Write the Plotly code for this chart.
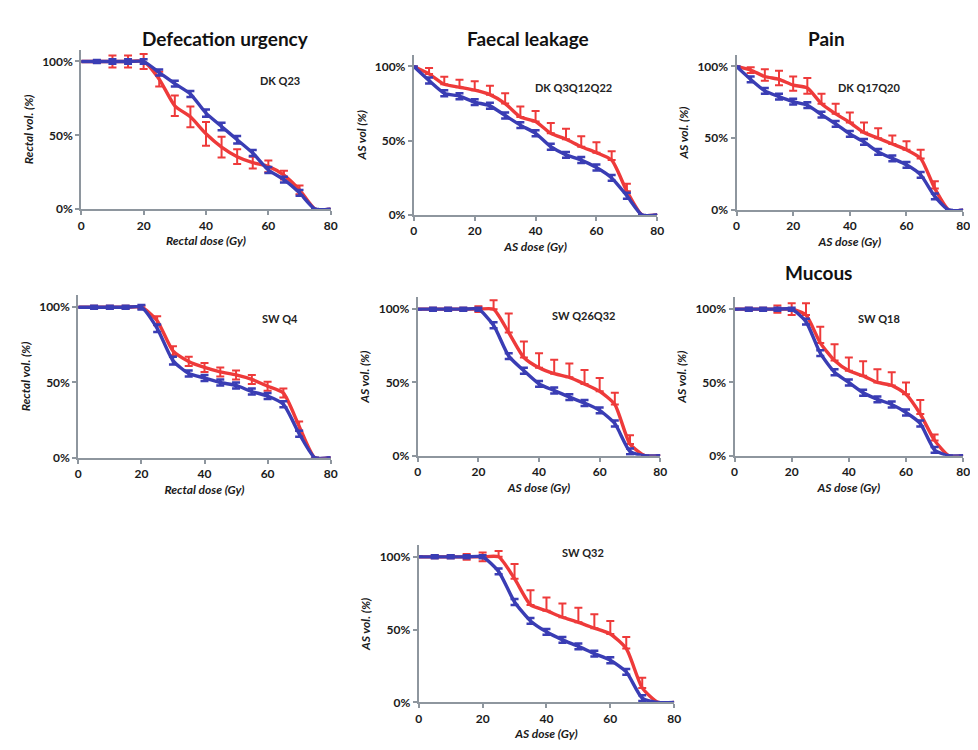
import plotly.graph_objects as go

dose = [0, 5, 10, 15, 20, 25, 30, 35, 40, 45, 50, 55, 60, 65, 70, 75, 80]
y_tickvals = [0, 50, 100]
y_ticktext = ["0%", "50%", "100%"]
x_tickvals = [0, 20, 40, 60, 80]

# ---- Panel 1: Defecation urgency, DK Q23 (rectum) ----
p1_blue = [100, 100, 100, 100, 100, 92.5, 85, 78, 65, 56, 47, 38, 26.5, 20, 11, 0, 0]
p1_blue_err = [0, 1, 1.5, 1.5, 1.5, 2, 2, 2, 2.5, 2.5, 2.5, 2, 2, 2, 2, 0, 0]
p1_red = [100, 100, 100, 100, 100, 88, 70, 62.5, 51, 42, 35.5, 31.5, 29, 23, 13, 0, 0]
p1_red_up = [0, 1, 4, 4, 5, 5, 7, 7, 8, 7, 5, 4, 4, 3, 3, 0, 0]
p1_red_dn = [0, 1, 4, 4, 5, 5, 7, 7, 8, 7, 5, 4, 4, 3, 3, 0, 0]

# ---- Panel 2: Faecal leakage, DK Q3Q12Q22 ----
p2_blue = [100, 90.5, 82, 80, 76, 73.5, 67, 60.5, 55, 46, 40.5, 37, 32, 25, 13, 0, 0]
p2_blue_err = [0, 2, 2, 2, 2, 2, 2, 2, 2, 2, 2, 2, 2, 2, 2, 0, 0]
p2_red = [100, 95, 88, 86, 84, 81, 75, 66, 63, 55, 51, 46, 42, 37, 16, 0, 0]
p2_red_up = [0, 4, 5, 5, 6, 6, 7, 7, 7, 7, 7, 7, 7, 6, 5, 0, 0]
p2_red_dn = [0] * 17

# ---- Panel 3: Pain, DK Q17Q20 ----
p3_blue = [100, 91, 83, 79, 75.5, 73, 66.5, 60, 53, 47.5, 40.5, 36, 31.5, 24.5, 9.5, 0, 0]
p3_blue_err = [0, 2, 2, 2, 2, 2, 2, 2, 2, 2, 2, 2, 2, 2, 2, 0, 0]
p3_red = [100, 97.5, 93, 91, 87, 85, 74, 67, 61, 54, 50, 46, 42, 36, 15, 0, 0]
p3_red_up = [0, 2, 5, 6, 6, 7, 7, 7, 7, 7, 7, 6, 6, 6, 5, 0, 0]
p3_red_dn = [0, 2, 3, 4, 4, 4, 0, 0, 0, 0, 0, 0, 0, 0, 0, 0, 0]

# ---- Panel 4: SW Q4 (rectum) ----
p4_blue = [100, 100, 100, 100, 100, 86, 64.5, 56, 53, 50, 48, 44, 41, 35.5, 16, 0, 0]
p4_blue_err = [0, 1, 1, 1, 1.5, 2.5, 2.5, 2, 2, 2, 2, 2, 2, 2, 2, 0, 0]
p4_red = [100, 100, 100, 100, 100, 91, 71, 64, 60, 57, 55, 52, 47.5, 43, 21, 0, 0]
p4_red_up = [0, 1, 1, 1, 1, 3, 3, 3, 3, 3, 3, 3, 3, 3, 3, 0, 0]
p4_red_dn = [0, 1, 1, 1, 1, 3, 3, 3, 3, 3, 3, 3, 3, 3, 3, 0, 0]

# ---- Panel 5: SW Q26Q32 ----
p5_blue = [100, 100, 100, 100, 100, 89, 68, 58, 49, 44.5, 40, 36, 31, 22, 3, 0, 0]
p5_blue_err = [0, 1, 1, 1, 1, 2, 2, 2, 2, 2, 2, 2, 2, 2, 2, 0, 0]
p5_red = [100, 100, 100, 100, 100, 100, 84, 67, 60, 56, 53.5, 49, 44, 35, 8, 0, 0]
p5_red_up = [0, 1, 1, 1, 2, 6, 13, 11, 10, 9.5, 9.5, 9.5, 9, 8, 6, 0, 0]
p5_red_dn = [0, 1, 1, 1, 2, 0, 0, 0, 0, 0, 0, 0, 0, 0, 0, 0, 0]

# ---- Panel 6: Mucous, SW Q18 ----
p6_blue = [100, 100, 100, 100, 100, 91.5, 70, 57, 50, 43, 38.5, 35, 29.5, 22, 4, 0, 0]
p6_blue_err = [0, 1, 1, 1, 1, 2, 2, 2, 2, 2, 2, 2, 2, 2, 2, 0, 0]
p6_red = [100, 100, 100, 100, 100, 96, 77, 65, 58, 54.5, 50, 48, 42, 28.5, 10.5, 0, 0]
p6_red_up = [0, 1, 1, 2.5, 4, 8, 11, 11, 9, 10, 9, 9, 8, 9.5, 4, 0, 0]
p6_red_dn = [0, 1, 1, 2.5, 4, 0, 0, 0, 0, 0, 0, 0, 0, 0, 0, 0, 0]

# ---- Panel 7: SW Q32 ----
p7_blue = [100, 100, 100, 100, 100, 90, 69, 56, 48.5, 43, 38.5, 33.5, 29, 21, 3, 0, 0]
p7_blue_err = [0, 1, 1, 1, 1, 2, 2, 2, 2, 2, 2, 2, 2, 2, 2, 0, 0]
p7_red = [100, 100, 100, 100, 100, 100, 85, 67, 63, 58.5, 55, 51, 47, 37, 10, 0, 0]
p7_red_up = [0, 1, 1, 2, 3, 4, 10, 10, 9, 9.5, 10, 9.5, 9, 8, 7, 0, 0]
p7_red_dn = [0, 1, 1, 2, 3, 0, 0, 0, 0, 0, 0, 0, 0, 0, 0, 0, 0]

titles = ["Defecation urgency", "Faecal leakage", "Pain", "", "", "Mucous", ""]
tags = ["DK Q23", "DK Q3Q12Q22", "DK Q17Q20", "SW Q4", "SW Q26Q32", "SW Q18", "SW Q32"]
ylabels = ["Rectal vol. (%)", "AS vol (%)", "AS vol. (%)", "Rectal vol. (%)", "AS vol. (%)", "AS vol. (%)", "AS vol. (%)"]
xlabels = ["Rectal dose (Gy)", "AS dose (Gy)", "AS dose (Gy)", "Rectal dose (Gy)", "AS dose (Gy)", "AS dose (Gy)", "AS dose (Gy)"]

panels = [
    (p1_blue, p1_blue_err, p1_red, p1_red_up, p1_red_dn),
    (p2_blue, p2_blue_err, p2_red, p2_red_up, p2_red_dn),
    (p3_blue, p3_blue_err, p3_red, p3_red_up, p3_red_dn),
    (p4_blue, p4_blue_err, p4_red, p4_red_up, p4_red_dn),
    (p5_blue, p5_blue_err, p5_red, p5_red_up, p5_red_dn),
    (p6_blue, p6_blue_err, p6_red, p6_red_up, p6_red_dn),
    (p7_blue, p7_blue_err, p7_red, p7_red_up, p7_red_dn),
]

# layout boxes in pixels: (x at 0 Gy, x at 80 Gy, y at 0%, y at 100%)
W, H = 978, 750
boxes = [
    (71, 323, 203, 54),
    (407, 653, 209, 59),
    (733, 962, 204, 59),
    (68, 323, 454, 302),
    (411, 656, 452, 304),
    (731, 962, 452, 304),
    (412, 670, 701, 554),
]
title_pos = [(130, 17), (522, 17), (845, 17), None, None, (852, 267), None]
tag_pos = [(250, 65), (568, 72), (900, 72), (252, 313), (578, 310), (900, 313), (578, 558)]

RED = "#EE3A3A"
BLUE = "#3A3DB4"
AXC = "#8E969E"
FONT = "Lato"
YTOP = 108

fig = go.Figure()
layout = dict(width=W, height=H, margin=dict(l=0, r=0, t=0, b=0),
              paper_bgcolor="white", plot_bgcolor="white", showlegend=False,
              font=dict(family=FONT, color="#1a1a1a"))
annotations = []

for i, (blue, berr, red, rup, rdn) in enumerate(panels):
    n = "" if i == 0 else str(i + 1)
    xa, ya = "x" + n, "y" + n
    x0, x80, y0, y100 = boxes[i]
    per = (y0 - y100) / 100.0
    ytop = y0 - YTOP * per
    fig.add_trace(go.Scatter(
        x=dose, y=red, mode="lines", xaxis=xa, yaxis=ya,
        line=dict(color=RED, width=3.4, shape="spline", smoothing=0.6),
        error_y=dict(type="data", array=rup, arrayminus=rdn, symmetric=False,
                     color=RED, thickness=2, width=4),
        hoverinfo="skip"))
    fig.add_trace(go.Scatter(
        x=dose, y=blue, mode="lines", xaxis=xa, yaxis=ya,
        line=dict(color=BLUE, width=3.4, shape="spline", smoothing=0.6),
        error_y=dict(type="data", array=berr, symmetric=True,
                     color=BLUE, thickness=2.5, width=4),
        hoverinfo="skip"))
    layout["xaxis" + n] = dict(
        domain=[x0 / W, x80 / W], anchor=ya, range=[0, 80],
        tickmode="array", tickvals=x_tickvals, showgrid=False, zeroline=False,
        showline=True, linecolor=AXC, linewidth=2, ticks="outside",
        tickcolor=AXC, ticklen=4, tickwidth=1.5,
        tickfont=dict(family=FONT, size=12, weight="bold", color="#1a1a1a"),
        title=dict(text=xlabels[i], standoff=5,
                   font=dict(family=FONT, size=12, style="italic", weight="bold", color="#1a1a1a")))
    layout["yaxis" + n] = dict(
        domain=[1 - y0 / H, 1 - ytop / H], anchor=xa, range=[0, YTOP],
        tickmode="array", tickvals=y_tickvals, ticktext=y_ticktext,
        showgrid=False, zeroline=False,
        showline=True, linecolor=AXC, linewidth=2, ticks="outside",
        tickcolor=AXC, ticklen=4, tickwidth=1.5,
        tickfont=dict(family=FONT, size=12, weight="bold", color="#1a1a1a"),
        title=dict(text=ylabels[i], standoff=6,
                   font=dict(family=FONT, size=12, style="italic", weight="bold", color="#1a1a1a")))
    if titles[i]:
        tx, ty = title_pos[i]
        annotations.append(dict(text="<b>" + titles[i] + "</b>", x=tx / W, y=1 - ty / H,
                                xref="paper", yref="paper", showarrow=False,
                                font=dict(family=FONT, size=19, color="#111")))
    ax_, ay_ = tag_pos[i]
    annotations.append(dict(text="<b>" + tags[i] + "</b>", x=ax_ / W, y=1 - ay_ / H,
                            xref="paper", yref="paper", showarrow=False,
                            font=dict(family=FONT, size=11, color="#222")))

layout["annotations"] = annotations
fig.update_layout(**layout)
fig.write_html("out.html")
